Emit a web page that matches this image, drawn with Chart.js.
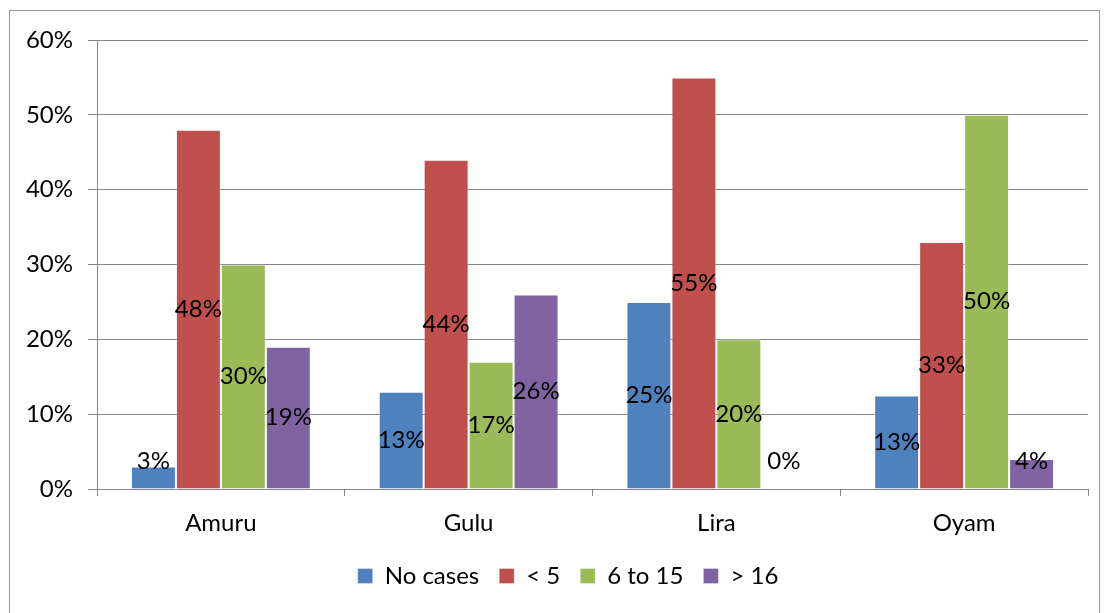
<!DOCTYPE html>
<html>
<head>
<meta charset="utf-8">
<script src="https://cdn.jsdelivr.net/npm/chart.js@4/dist/chart.umd.min.js"></script>
<style>
  html,body{margin:0;padding:0;background:#fff;}
  #wrap{position:relative;width:1105px;height:613px;}
</style>
</head>
<body>
<div id="wrap"><canvas id="chart" width="1105" height="613"></canvas></div>
<script>
// Data
const districts = ['Amuru', 'Gulu', 'Lira', 'Oyam'];
const noCases   = [3, 13, 25, 12.5];
const under5    = [48, 44, 55, 33];
const sixTo15   = [30, 17, 20, 50];
const over16    = [19, 26, 0, 4];
const seriesNames = ['No cases', '< 5', '6 to 15', '> 16'];
const seriesColors = ['#4F81BD', '#C0504D', '#9BBB59', '#8064A2'];
const yTicks = [0, 10, 20, 30, 40, 50, 60];

const FONT = 'Lato, "Open Sans", sans-serif';
const FS = 24;
Chart.defaults.font.family = FONT;
Chart.defaults.color = '#000';

// outer frame like the Excel chart area
const framePlugin = {
  id: 'frame',
  beforeDraw(chart) {
    const c = chart.ctx;
    c.save();
    c.fillStyle = '#fff';
    c.fillRect(0, 0, chart.width, chart.height);
    c.strokeStyle = '#9a9a9a';
    c.lineWidth = 1;
    c.strokeRect(9.5, 10.5, 1090, 620);
    c.restore();
  },
  // Excel centres the legend a little right of the canvas centre
  afterLayout(chart) {
    chart.legend.left += 24;
    chart.legend.right += 24;
  }
};

// value labels centred on each bar, kept above the axis
const labelPlugin = {
  id: 'barLabels',
  afterDatasetsDraw(chart) {
    const c = chart.ctx;
    const bottom = chart.chartArea.bottom;
    c.save();
    c.font = FS + 'px ' + FONT;
    c.fillStyle = '#000';
    c.textAlign = 'center';
    c.textBaseline = 'middle';
    chart.data.datasets.forEach((ds, i) => {
      chart.getDatasetMeta(i).data.forEach((bar, j) => {
        const mid = (bar.y + bar.base) / 2;
        const y = Math.min(mid, bottom - 28);
        c.fillText(Math.round(ds.data[j]) + '%', bar.x, y);
      });
    });
    c.restore();
  }
};

const datasets = [noCases, under5, sixTo15, over16].map((d, i) => ({
  label: seriesNames[i],
  data: d,
  backgroundColor: seriesColors[i],
  borderColor: 'rgba(255,255,255,0.35)',
  borderWidth: 1,
  categoryPercentage: 0.726,
  barPercentage: 1
}));

new Chart(document.getElementById('chart'), {
  type: 'bar',
  data: { labels: districts, datasets: datasets },
  options: {
    responsive: false,
    animation: false,
    layout: { padding: { left: 0, right: 17, top: 40, bottom: 15 } },
    plugins: {
      legend: {
        position: 'bottom',
        labels: { font: { size: FS }, boxWidth: 15, boxHeight: 15, padding: 20, color: '#000' }
      },
      tooltip: { enabled: false }
    },
    scales: {
      x: {
        grid: { display: true, drawOnChartArea: false, drawTicks: true, tickLength: 7, color: '#868686', offset: true },
        border: { color: '#868686', width: 1 },
        ticks: { font: { size: FS }, color: '#000', padding: 13 },
        afterFit(s) { s.height = 55; }
      },
      y: {
        min: 0, max: 60,
        afterBuildTicks(s) { s.ticks = yTicks.map(v => ({ value: v })); },
        grid: { color: '#868686', tickLength: 9, lineWidth: 1 },
        border: { color: '#868686', width: 1 },
        ticks: { font: { size: FS }, color: '#000', padding: 15, callback: v => v + '%' },
        afterFit(s) { s.width = 97; }
      }
    }
  },
  plugins: [framePlugin, labelPlugin]
});
</script>
</body>
</html>
